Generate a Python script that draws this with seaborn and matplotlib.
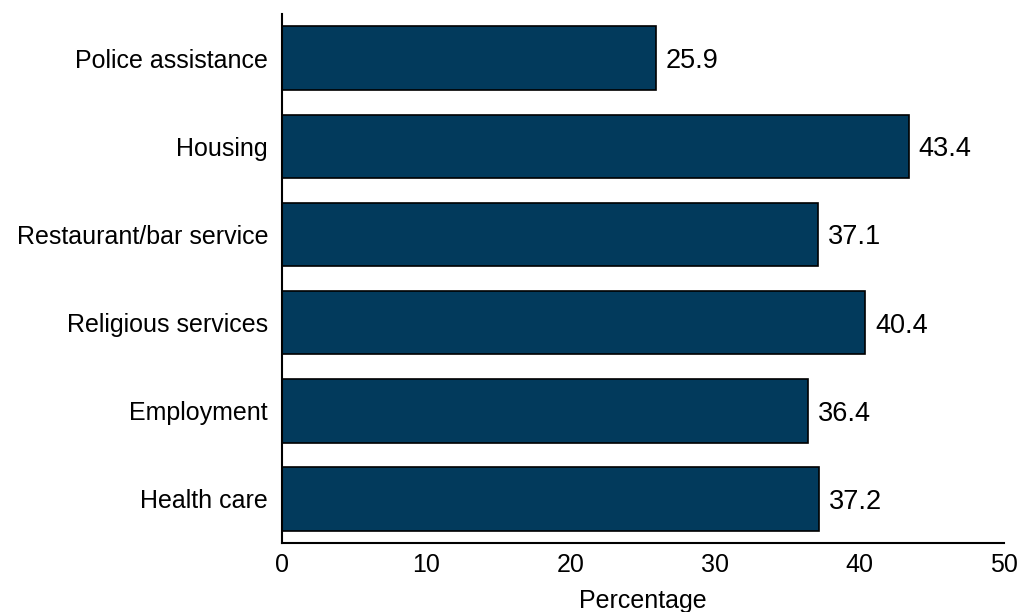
import matplotlib
matplotlib.use("Agg")
import matplotlib.pyplot as plt
import seaborn as sns
import pandas as pd

categories = ["Police assistance", "Housing", "Restaurant/bar service",
              "Religious services", "Employment", "Health care"]
values = [25.9, 43.4, 37.1, 40.4, 36.4, 37.2]
x_ticks = [0, 10, 20, 30, 40, 50]

sns.set_theme(style="white")
plt.rcParams["font.family"] = ["Liberation Sans", "DejaVu Sans"]

FS = 18

df = pd.DataFrame({"category": categories, "value": values})

fig = plt.figure(figsize=(10.21, 6.12), dpi=100)
ax = fig.add_axes([0.2762, 0.1127, 0.9834 - 0.2762, 0.9771 - 0.1127])

sns.barplot(data=df, y="category", x="value", orient="h", color="#023a5c",
            saturation=1, width=0.72, edgecolor="black", linewidth=1.2, ax=ax)

# value labels just right of each bar end
for i, v in enumerate(values):
    ax.annotate(f"{v:.1f}", xy=(v, i), xytext=(10, -3),
                textcoords="offset pixels", ha="left", va="center",
                fontsize=19.5, color="black")

ax.set_xlim(0, 50)
ax.set_ylim(5.5, -0.5)
ax.set_xticks(x_ticks)
ax.set_xticklabels([str(t) for t in x_ticks])
ax.set_xlabel("Percentage", fontsize=FS, color="black", labelpad=9)
ax.set_ylabel("")

for side in ["top", "right"]:
    ax.spines[side].set_visible(False)
for side in ["left", "bottom"]:
    ax.spines[side].set_color("black")
    ax.spines[side].set_linewidth(1.5)

ax.tick_params(axis="x", direction="in", length=8, width=1.5, colors="black",
               labelsize=FS, pad=7)
ax.tick_params(axis="y", length=0, labelsize=FS, colors="black", pad=10)

fig.savefig("out.png", dpi=100)
